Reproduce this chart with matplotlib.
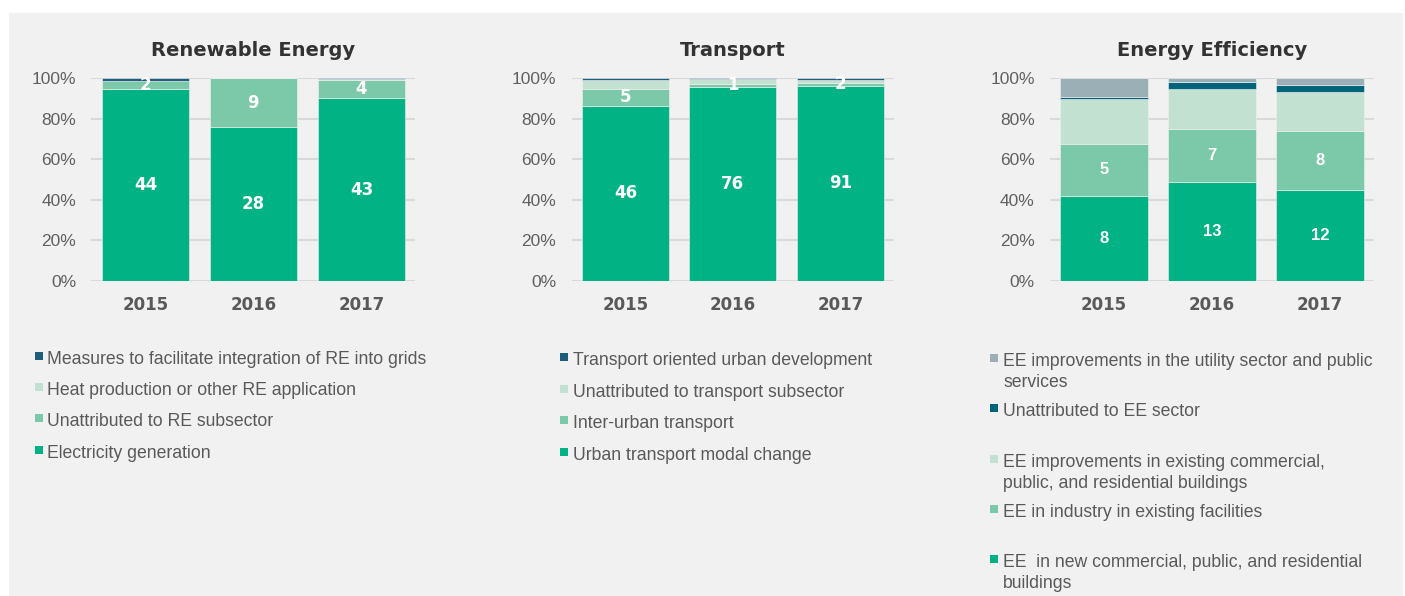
import matplotlib as mpl
mpl.use('Agg')
import matplotlib.pyplot as plt
from matplotlib.patches import Rectangle

# ── Data (shares in %, bottom -> top) and count labels ────────────────────
YEARS = ['2015', '2016', '2017']

RE_SERIES = ['Electricity generation', 'Unattributed to RE subsector',
             'Heat production or other RE application',
             'Measures to facilitate integration of RE into grids']
RE_SHARES = [[94.7, 75.9, 90.1],
             [3.9, 24.1, 9.1],
             [0.0, 0.0, 0.5],
             [1.4, 0.0, 0.3]]
RE_LABELS = [['44', '28', '43'],
             ['2', '9', '4'],
             ['', '', ''],
             ['', '', '']]

TR_SERIES = ['Urban transport modal change', 'Inter-urban transport',
             'Unattributed to transport subsector',
             'Transport oriented urban development']
TR_SHARES = [[86.3, 95.9, 96.4],
             [8.6, 1.3, 1.5],
             [4.3, 2.5, 1.2],
             [0.8, 0.3, 0.9]]
TR_LABELS = [['46', '76', '91'],
             ['5', '1', '2'],
             ['', '', ''],
             ['', '', '']]

EE_SERIES = ['EE  in new commercial, public, and residential\nbuildings',
             'EE in industry in existing facilities',
             'EE improvements in existing commercial,\npublic, and residential buildings',
             'Unattributed to EE sector',
             'EE improvements in the utility sector and public\nservices']
EE_SHARES = [[42.0, 48.9, 44.8],
             [25.5, 26.2, 29.2],
             [22.3, 19.8, 19.1],
             [0.8, 3.4, 3.7],
             [9.4, 1.7, 3.2]]
EE_LABELS = [['8', '13', '12'],
             ['5', '7', '8'],
             ['', '', ''],
             ['', '', ''],
             ['', '', '']]

GREEN = '#00B284'
MID = '#7CC9A9'
LIGHT = '#C3E1D1'
TEAL = '#00657A'
GREYBLUE = '#9BB0B6'
RE_COLORS = [GREEN, MID, LIGHT, '#1D5E7C']
TR_COLORS = [GREEN, MID, LIGHT, '#1D5E7C']
EE_COLORS = [GREEN, MID, LIGHT, TEAL, GREYBLUE]

BG = '#F1F1F1'
TXT = '#595959'
W, H = 1405, 596

mpl.rcParams.update({
    'font.family': ['Liberation Sans', 'DejaVu Sans'],
    'font.size': 12,
})

fig = plt.figure(figsize=(W / 100, H / 100), dpi=100, facecolor='white')
fig.patches.append(Rectangle((9 / W, 0), (1403 - 9) / W, (H - 13) / H,
                             transform=fig.transFigure, facecolor=BG,
                             edgecolor='none', zorder=-10))


def px(x, y):
    """pixel (from top-left) -> figure fraction"""
    return x / W, 1 - y / H


def draw_panel(left, width, title, shares, labels, colors, bold_font):
    ax = fig.add_axes([left / W, 1 - 280.7 / H, width / W, 202.4 / H])
    ax.set_facecolor(BG)
    xs = range(len(YEARS))
    bottom = [0.0] * len(YEARS)
    for vals, labs, col in zip(shares, labels, colors):
        ax.bar(xs, vals, 0.81, bottom=bottom, color=col, edgecolor=BG,
               linewidth=0.4, zorder=3)
        for i, (v, lab) in enumerate(zip(vals, labs)):
            if lab:
                ax.text(i, bottom[i] + v / 2, lab, ha='center', va='center',
                        color='white', fontsize=12, fontweight='bold',
                        family=bold_font, zorder=4)
        bottom = [b + v for b, v in zip(bottom, vals)]
    ax.set_xlim(-0.5, len(YEARS) - 0.5)
    ax.set_ylim(0, 100)
    ax.set_yticks(range(0, 101, 20))
    ax.set_yticklabels([f'{t}%' for t in range(0, 101, 20)], color='#606060',
                       fontsize=12.5)
    ax.set_xticks(list(xs))
    ax.set_xticklabels(YEARS, color=TXT, fontsize=12, fontweight='bold',
                       family='DejaVu Sans')
    ax.tick_params(axis='y', length=0, pad=11)
    ax.tick_params(axis='x', length=0, pad=11)
    for s in ax.spines.values():
        s.set_visible(False)
    ax.grid(axis='y', color='#D9D9D9', linewidth=1.5, zorder=0)
    ax.set_axisbelow(True)
    ax.set_title(title, fontsize=14, fontweight='bold', color='#333333',
                 family='DejaVu Sans', pad=16)
    return ax


draw_panel(91.4, 324, 'Renewable Energy', RE_SHARES, RE_LABELS, RE_COLORS, 'DejaVu Sans')
draw_panel(571.6, 322.5, 'Transport', TR_SHARES, TR_LABELS, TR_COLORS, 'DejaVu Sans')
draw_panel(1050, 324, 'Energy Efficiency', EE_SHARES, EE_LABELS, EE_COLORS, 'Liberation Sans')


def legend(sq_x, text_x, rows, series, colors):
    # legend lists series top -> bottom (reverse of stacking order)
    for y, name, col in zip(rows, series[::-1], colors[::-1]):
        fx, fy = px(sq_x, y - 6)
        fig.patches.append(Rectangle((fx, fy - 8 / H), 8 / W, 8 / H,
                                     transform=fig.transFigure, facecolor=col,
                                     edgecolor='none'))
        tx, ty = px(text_x, y - 7)
        fig.text(tx, ty, name, ha='left', va='top', color=TXT, fontsize=12.7,
                 linespacing=1.27)


legend(35, 47, [358, 389, 420, 452], RE_SERIES, RE_COLORS)
legend(560, 573, [359, 391, 422, 454], TR_SERIES, TR_COLORS)
legend(990, 1003, [360, 410, 461, 511, 561], EE_SERIES, EE_COLORS)

fig.savefig('out.png', dpi=100, facecolor=fig.get_facecolor())
